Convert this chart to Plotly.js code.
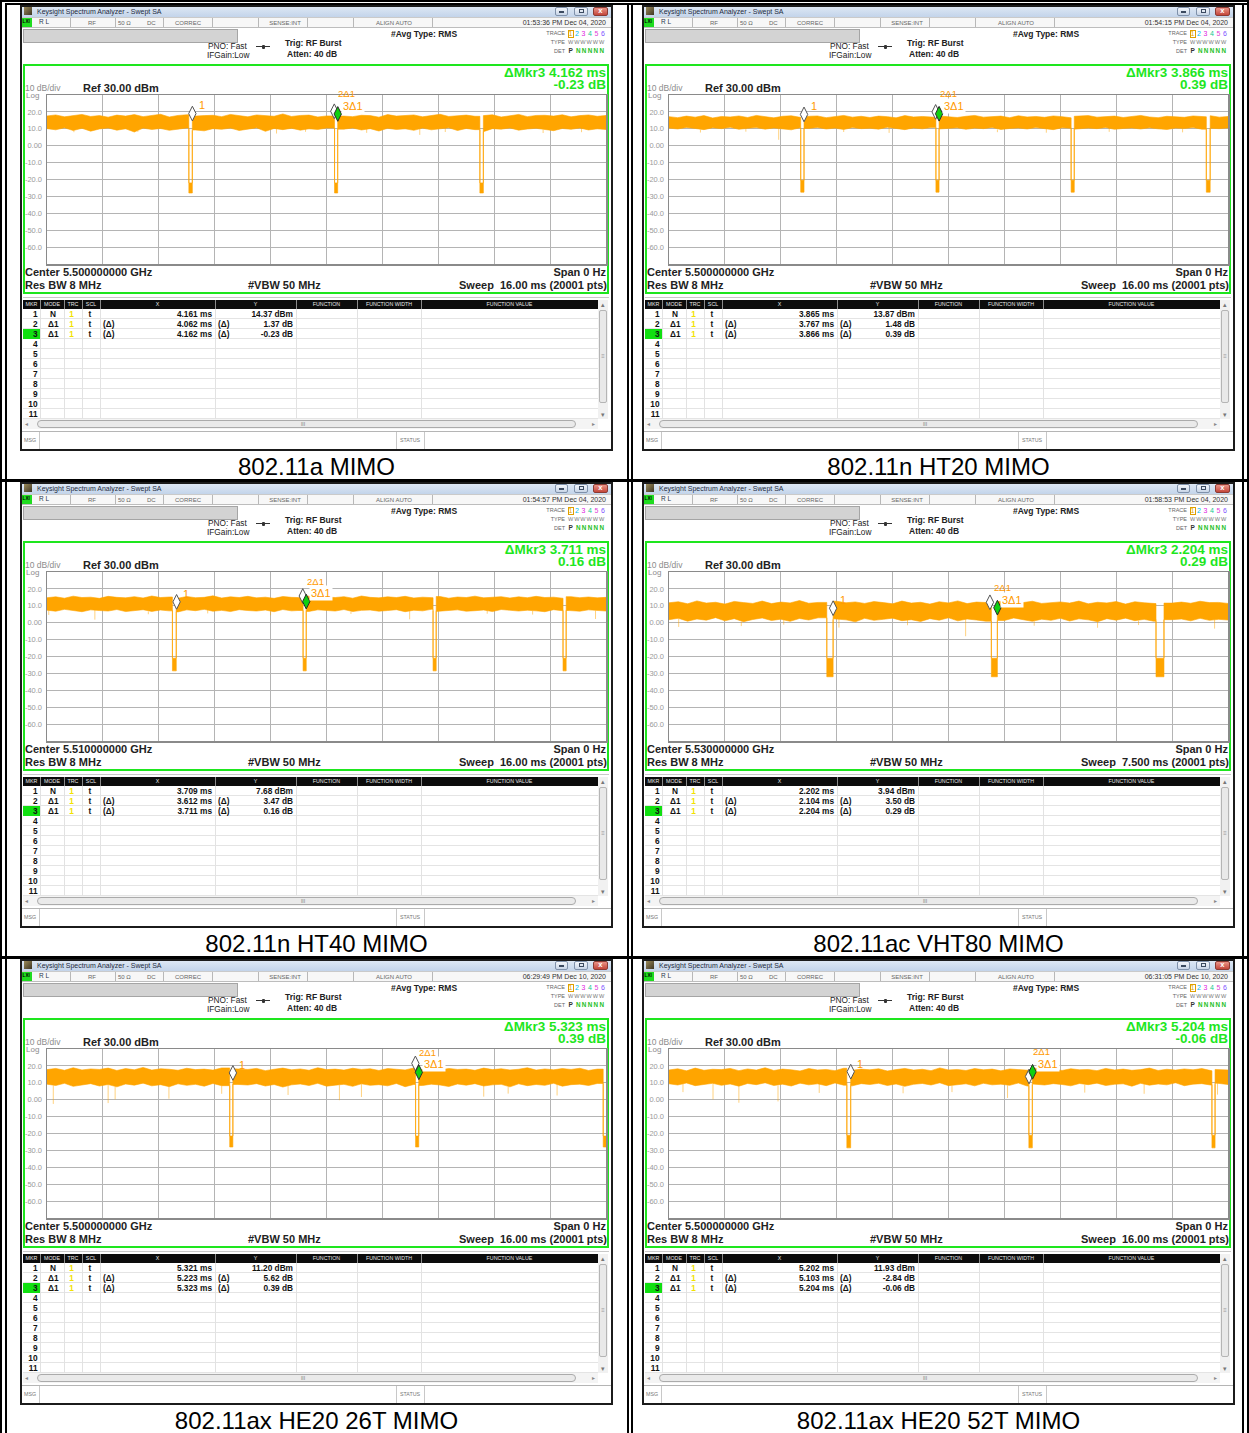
<!DOCTYPE html>
<html><head><meta charset="utf-8">
<script src="https://cdn.plot.ly/plotly-3.0.1.min.js"></script>
<style>
body{margin:0;background:#fff;}
#page{position:relative;width:1249px;height:1433px;overflow:hidden;font-family:"Liberation Sans",Arial,sans-serif;background:#fff;}
</style></head><body><div id="page"></div>
<script>
// ---------------- DATA ----------------
const captions = ["802.11a MIMO","802.11n HT20 MIMO","802.11n HT40 MIMO","802.11ac VHT80 MIMO","802.11ax HE20 26T MIMO","802.11ax HE20 52T MIMO"];
const timestamps = ["01:53:36 PM Dec 04, 2020","01:54:15 PM Dec 04, 2020","01:54:57 PM Dec 04, 2020","01:58:53 PM Dec 04, 2020","06:29:49 PM Dec 10, 2020","06:31:05 PM Dec 10, 2020"];
const centerFreqs = ["5.500000000 GHz","5.500000000 GHz","5.510000000 GHz","5.530000000 GHz","5.500000000 GHz","5.500000000 GHz"];
const sweepMs = [16,16,16,7.5,16,16];
const sweepLabels = ["16.00 ms","16.00 ms","16.00 ms","7.500 ms","16.00 ms","16.00 ms"];
const sampleStepMs = [0.25,0.25,0.25,0.125,0.25,0.25];

// marker table values (marker 1 absolute, markers 2 & 3 are deltas to marker 1)
const mkr1X = [4.161,3.865,3.709,2.202,5.321,5.202];
const mkr1Y = [14.37,13.87,7.68,3.94,11.20,11.93];
const mkr2X = [4.062,3.767,3.612,2.104,5.223,5.103];
const mkr2Y = [1.37,1.48,3.47,3.50,5.62,-2.84];
const mkr3X = [4.162,3.866,3.711,2.204,5.323,5.204];
const mkr3Y = [-0.23,0.39,0.16,0.29,0.39,-0.06];

const yTickVals = [20,10,0,-10,-20,-30,-40,-50,-60];
const yTickText = ["20.0","10.0","0.00","-10.0","-20.0","-30.0","-40.0","-50.0","-60.0"];

// trace-off gaps [start ms, end ms] and level of the trace during the gap [top, bottom] dBm
const gaps1 = [[4.06,4.16],[8.23,8.32],[12.39,12.49]];
const gaps2 = [[3.77,3.865],[7.64,7.73],[11.51,11.60],[15.38,15.49]];
const gaps3 = [[3.59,3.70],[7.33,7.42],[11.05,11.14],[14.77,14.86]];
const gaps4 = [[2.117,2.202],[4.325,4.406],[6.534,6.641]];
const gaps5 = [[5.23,5.32],[10.55,10.64],[15.92,16.0]];
const gaps6 = [[5.09,5.20],[10.30,10.40],[15.54,15.63]];
const gapLevels = [[-22,-28],[-20.5,-27.5],[-21,-28.5],[-21,-32],[-21.5,-28],[-21,-28.5]];

// noise band envelopes (upper / lower), one value per sample step
const bandTop1 = [17.6,18.2,17.1,17.9,18.5,17.3,17.8,16.9,18.1,17.5,18.4,17.2,17.7,18.6,17.0,17.9,
18.3,17.4,17.8,18.0,17.2,18.5,17.6,17.1,18.2,17.7,17.4,18.8,17.3,17.9,18.1,17.0,
17.6,18.3,17.5,17.2,18.0,17.8,16.9,18.4,17.5,17.7,18.2,17.1,17.9,18.6,17.3,17.6,
18.1,17.4,17.8,18.3,17.0,17.7,18.5,17.2,17.9,18.0,17.5,18.3,17.1,17.8,18.2,17.4,17.9];
const bandBot1 = [10.1,9.4,10.6,9.0,10.3,8.6,9.9,10.5,9.2,10.0,8.1,10.4,9.6,10.2,9.1,9.8,
10.5,9.3,8.8,10.1,9.7,10.4,9.0,9.9,10.6,8.5,10.2,9.5,10.3,9.2,10.0,9.6,
10.4,8.9,9.8,10.5,9.3,10.1,8.7,10.3,9.6,10.0,9.1,10.4,9.4,9.9,10.6,9.0,
10.2,9.5,8.3,10.1,9.8,10.5,9.2,9.9,10.3,9.4,8.9,10.2,9.7,10.5,9.3,10.0,9.6];
const bandTop2 = [17.2,16.6,17.5,16.9,17.8,16.4,17.3,17.0,17.6,16.7,17.9,17.1,16.5,17.4,17.7,16.8,
17.3,17.6,16.6,17.1,17.9,16.9,17.4,16.7,17.5,17.2,16.5,17.8,17.0,17.3,16.8,17.6,
17.1,16.7,17.4,17.9,16.9,17.2,17.5,16.6,17.7,17.0,17.3,16.8,17.6,17.2,16.5,17.4,
17.8,16.9,17.1,17.5,16.7,17.3,17.9,17.0,16.6,17.4,17.2,16.8,17.6,17.1,17.7,16.9,17.3];
const bandBot2 = [10.4,9.9,10.8,10.2,9.5,10.6,10.1,10.9,9.7,10.3,10.7,9.8,10.5,10.0,9.4,10.6,
10.2,10.8,9.9,10.4,9.6,10.7,10.1,10.3,9.8,10.9,10.2,9.5,10.5,10.0,10.7,9.9,
10.3,10.6,9.7,10.4,10.1,10.8,9.6,10.2,10.5,9.9,10.7,10.0,9.5,10.6,10.3,9.8,
10.4,10.1,10.8,9.7,10.2,10.5,9.9,10.6,10.0,9.6,10.4,10.2,10.7,9.8,10.3,10.1,10.5];
const bandTop3 = [14.8,15.3,14.5,15.7,14.9,15.1,14.4,15.6,15.0,14.7,15.4,14.6,15.8,14.9,15.2,14.5,
15.5,14.8,15.0,15.9,14.6,15.3,14.9,15.6,14.7,15.1,14.4,15.5,15.0,14.8,15.7,14.6,
15.2,14.9,15.4,14.5,15.8,15.0,14.7,15.3,14.9,15.6,14.6,15.1,14.8,15.5,14.5,15.2,
14.9,15.7,14.7,15.0,15.4,14.6,15.3,14.8,15.6,14.9,15.1,14.5,15.4,14.8,15.2,14.7,15.0];
const bandBot3 = [7.4,6.8,7.9,7.1,6.5,7.6,7.2,6.9,7.8,6.6,7.3,7.7,6.7,7.5,7.0,6.4,
7.6,7.1,7.9,6.8,7.3,6.6,7.7,7.2,6.9,7.5,6.5,7.8,7.0,7.4,6.7,7.6,
7.1,6.9,7.8,6.6,7.3,7.5,6.8,7.2,7.7,6.5,7.4,7.0,7.9,6.7,7.3,7.6,
6.8,7.1,7.5,6.6,7.8,7.2,6.9,7.4,7.0,6.5,7.7,7.1,7.3,6.8,7.6,7.2,6.9];
const bandTop4 = [11.8,12.4,11.2,12.9,11.6,12.1,11.0,12.6,11.9,11.4,12.8,11.3,12.2,11.7,13.1,11.5,
12.0,11.1,12.7,11.8,12.3,11.4,12.5,11.9,11.2,12.8,11.6,12.1,11.0,12.4,11.7,12.9,
11.3,12.2,11.8,11.5,12.6,11.1,12.0,12.7,11.4,11.9,12.3,11.6,12.8,11.2,12.1,11.7,
12.5,11.0,12.4,11.8,11.3,12.9,11.6,12.2,11.5,12.7,11.9,12.0,11.4];
const bandBot4 = [1.8,2.6,0.9,2.2,1.5,3.0,1.1,2.4,0.6,1.9,2.8,1.3,2.1,0.8,2.5,1.6,
2.9,1.0,2.3,1.7,0.5,2.6,1.4,2.0,2.7,1.2,1.8,0.7,2.4,1.5,2.9,1.1,
2.2,1.6,0.9,2.5,1.3,2.8,1.9,0.8,2.1,1.4,2.6,1.0,2.3,1.7,0.6,2.4,
1.5,2.7,1.2,2.0,0.9,2.5,1.8,2.2,1.1,2.6,1.4,2.0,1.6];
const bandTop5 = [17.8,18.5,17.4,18.9,17.6,18.2,17.9,18.7,17.3,18.4,17.7,19.1,17.5,18.3,18.0,17.4,
18.6,17.8,18.1,17.5,18.8,17.6,18.3,17.9,18.5,17.2,18.0,18.7,17.7,18.2,17.4,18.9,
17.8,18.1,17.5,18.6,17.9,18.3,17.3,18.4,18.0,17.6,18.8,17.7,18.2,17.5,18.5,17.9,
18.1,17.4,18.7,17.8,18.3,17.6,18.0,18.9,17.5,18.2,17.7,18.4,17.9,18.6,17.3,18.1,17.8];
const bandBot5 = [9.2,8.4,9.7,7.9,8.8,9.5,8.1,9.0,7.6,9.3,8.6,9.8,8.2,8.9,7.7,9.4,
8.5,9.1,8.0,9.6,8.3,7.8,9.2,8.7,9.5,8.1,9.0,7.5,8.8,9.3,8.4,9.7,
8.0,8.6,9.1,7.9,9.4,8.5,8.9,8.2,9.6,7.7,9.0,8.4,9.2,8.7,7.8,9.3,
8.6,9.5,8.1,8.8,9.1,7.6,9.4,8.3,9.0,8.5,9.7,8.0,8.9,9.2,8.4,9.6,8.7];
const bandTop6 = [17.6,18.3,17.1,18.7,17.4,18.0,17.8,18.5,17.2,18.2,17.5,18.9,17.3,18.1,17.7,17.0,
18.4,17.6,17.9,17.2,18.6,17.4,18.1,17.7,18.3,17.0,17.8,18.5,17.5,18.0,17.2,18.8,
17.6,17.9,17.3,18.4,17.7,18.1,17.1,18.2,17.8,17.4,18.6,17.5,18.0,17.3,18.3,17.7,
17.9,17.2,18.5,17.6,18.1,17.4,17.8,18.7,17.3,18.0,17.5,18.2,17.7,18.4,17.1,17.9,17.6];
const bandBot6 = [9.4,8.7,9.9,8.3,9.1,9.7,8.5,9.3,8.0,9.6,8.9,10.0,8.4,9.2,8.1,9.8,
8.8,9.4,8.3,9.9,8.6,8.2,9.5,9.0,9.7,8.4,9.3,7.9,9.1,9.6,8.7,10.0,
8.3,8.9,9.4,8.2,9.7,8.8,9.2,8.5,9.9,8.1,9.3,8.7,9.5,9.0,8.2,9.6,
8.9,9.8,8.4,9.1,9.4,8.0,9.7,8.6,9.3,8.8,10.0,8.3,9.2,9.5,8.7,9.9,9.0];

// downward noise spikes [time ms, lowest dBm]
const spikes1 = [[0.77,8.0],[2.6,8.6],[6.57,7.2],[7.4,8.2],[9.15,7.6],[10.67,6.4],[11.4,8.1],[14.2,7.5],[15.3,8.0]];
const spikes2 = [[0.9,7.8],[2.2,8.3],[3.14,3.5],[5.0,8.1],[6.3,7.6],[9.4,8.0],[10.8,7.7],[12.6,8.2],[14.7,7.9]];
const spikes3 = [[0.05,4.6],[1.37,1.8],[2.9,5.0],[4.6,5.5],[6.4,4.4],[8.7,5.2],[10.38,2.0],[12.6,5.3],[13.9,4.8],[15.7,2.2]];
const spikes4 = [[0.13,-2.5],[0.97,-2.0],[1.54,-1.2],[2.28,-2.9],[3.2,-1.5],[3.98,-8.0],[4.9,-1.8],[5.75,-3.0],[6.3,-1.4],[7.32,-3.5]];
const spikes5 = [[0.18,-2.5],[1.75,-2.0],[1.95,0.2],[3.49,0.6],[5.0,3.5],[6.9,2.8],[8.37,-0.3],[9.0,1.6],[12.5,1.8],[13.2,3.6],[14.6,2.5]];
const spikes6 = [[0.4,4.5],[1.26,0.2],[2.0,-1.8],[3.12,-1.0],[4.3,4.0],[6.7,3.8],[8.1,4.5],[9.69,1.0],[11.9,4.2],[13.6,3.5],[15.7,3.0]];

const bandTops = [bandTop1,bandTop2,bandTop3,bandTop4,bandTop5,bandTop6];
const bandBots = [bandBot1,bandBot2,bandBot3,bandBot4,bandBot5,bandBot6];
const gapLists = [gaps1,gaps2,gaps3,gaps4,gaps5,gaps6];
const spikeLists = [spikes1,spikes2,spikes3,spikes4,spikes5,spikes6];

// ---------------- DRAWING ----------------
const F = '"Liberation Sans", Arial, sans-serif';
const page = document.getElementById('page');
const ORANGE = '#ffa500';

function el(parent, css, text){
  const d = document.createElement('div');
  d.style.cssText = 'position:absolute;' + css;
  if (text != null) d.textContent = text;
  parent.appendChild(d);
  return d;
}
function txt(parent, s, x, yc, fs, o){
  o = o || {};
  const tr = o.align === 'right' ? 'translateX(-100%)' : (o.align === 'center' ? 'translateX(-50%)' : 'none');
  return el(parent, `left:${x}px;top:${yc - fs/2}px;font-size:${fs}px;line-height:${fs}px;white-space:pre;color:${o.color || '#000'};font-weight:${o.bold ? 'bold' : 'normal'};transform:${tr};` + (o.css || ''), s);
}

// table lines
function line(x, y, w, h){ el(page, `left:${x}px;top:${y}px;width:${w}px;height:${h}px;background:#000;`); }
line(0,0,1249,2); line(5,3,1244,2);
line(0,479,1249,3); line(0,956,1249,3);
line(0,0,2,1433); line(5,3,2,1430); line(627,3,2,1430); line(631,3,2,1430); line(1242,3,2,1430); line(1247,0,2,1433);

const rowsTop = [5, 482, 959];
const colsLeft = [20, 642];

function fmtX(v){ return v.toFixed(3) + ' ms'; }
function fmtY(v){ return v.toFixed(2); }

function buildPanel(k, L, T){
  const p = el(page, `left:${L}px;top:${T}px;width:593px;height:446px;background:#fff;overflow:hidden;font-family:${F};`);
  // title bar
  el(p, 'left:0;top:0;width:593px;height:12px;background:linear-gradient(#e2ebf6,#c3d4ea);');
  el(p, 'left:4px;top:2px;width:8px;height:8px;background:linear-gradient(135deg,#9a8a5a,#3e3522);');
  txt(p, 'Keysight Spectrum Analyzer - Swept SA', 17, 6.5, 7, {color:'#1d2a40'});
  el(p, 'left:535px;top:1.5px;width:13px;height:9px;border:1px solid #7f91aa;border-radius:2px;box-sizing:border-box;background:linear-gradient(#f3f6fb,#c8d5e7);');
  el(p, 'left:539px;top:6px;width:5px;height:1.5px;background:#3b4a60;');
  el(p, 'left:554px;top:1.5px;width:14px;height:9px;border:1px solid #7f91aa;border-radius:2px;box-sizing:border-box;background:linear-gradient(#f3f6fb,#c8d5e7);');
  el(p, 'left:558.5px;top:3.5px;width:5px;height:4px;border:1px solid #3b4a60;box-sizing:border-box;');
  el(p, 'left:573px;top:1.5px;width:15px;height:9px;border:1px solid #8b3a33;border-radius:2px;box-sizing:border-box;background:linear-gradient(#ea9488,#c4463a);');
  txt(p, 'x', 578.3, 5.6, 7.5, {color:'#fff', bold:true});
  // status row
  el(p, 'left:0;top:12px;width:593px;height:11px;background:#f7f7f7;border-top:1px solid #cacaca;border-bottom:1px solid #bdbdbd;box-sizing:border-box;');
  el(p, 'left:2px;top:13px;width:10px;height:9px;background:#1fdc1f;');
  txt(p, 'LXI', 2.6, 17.6, 4.6, {color:'#000', bold:true});
  [50,95,143,192,238,287,333,412].forEach(x => el(p, `left:${x}px;top:13px;width:1px;height:9px;background:#b8b8b8;`));
  txt(p, 'R L', 19, 17.6, 6.5, {color:'#2b3550'});
  txt(p, 'RF', 72, 17.6, 6, {color:'#666', align:'center'});
  txt(p, '50 Ω', 98, 17.6, 6, {color:'#666'});
  txt(p, 'DC', 127, 17.6, 6, {color:'#666'});
  txt(p, 'CORREC', 155, 17.6, 6, {color:'#666'});
  txt(p, 'SENSE:INT', 265, 17.6, 6, {color:'#666', align:'center'});
  txt(p, 'ALIGN AUTO', 374, 17.6, 6, {color:'#666', align:'center'});
  txt(p, timestamps[k], 586, 17.6, 7, {color:'#333', align:'right'});
  // input bar
  el(p, 'left:3px;top:24px;width:215px;height:14px;background:#d3d3d3;border:1px solid #a5a5a5;box-sizing:border-box;');
  // header texts
  txt(p, '#Avg Type: RMS', 371, 29.5, 8.5, {bold:true, color:'#222'});
  txt(p, 'PNO: Fast', 188, 41.5, 8.3, {color:'#222'});
  txt(p, 'IFGain:Low', 187, 50.5, 8.3, {color:'#222'});
  el(p, 'left:236px;top:41px;width:14px;height:1px;background:#333;');
  el(p, 'left:241.5px;top:39.5px;width:3px;height:4px;background:#333;border-radius:1px;');
  txt(p, 'Trig: RF Burst', 265, 38.3, 8.5, {bold:true, color:'#222'});
  txt(p, 'Atten: 40 dB', 267, 49, 8.5, {bold:true, color:'#222'});
  // trace info block
  txt(p, 'TRACE', 545, 28.5, 5.5, {color:'#666', align:'right'});
  txt(p, 'TYPE', 545, 37.5, 5.5, {color:'#666', align:'right'});
  txt(p, 'DET', 545, 46.5, 5.5, {color:'#666', align:'right'});
  el(p, 'left:547.5px;top:24.5px;width:6px;height:8.5px;border:1px solid #e0a000;box-sizing:border-box;background:#fff;');
  const tc = ['#e0a800','#00b8ee','#e020e0','#10c890','#e040d8','#8050ff'];
  for (let j = 0; j < 6; j++) txt(p, String(j+1), 550.5 + j*6.5, 28.8, 7, {color:tc[j], align:'center'});
  txt(p, 'WWWWWW', 548, 37.6, 5.6, {color:'#7a7a7a', css:'letter-spacing:0.9px;'});
  txt(p, 'P', 548.5, 46.6, 6.5, {color:'#333', bold:true});
  txt(p, 'NNNNN', 556, 46.6, 6.3, {color:'#22c022', bold:true, css:'letter-spacing:1.3px;'});
  // green box
  el(p, 'left:3px;top:59px;width:586px;height:230px;border:2px solid #1ee61e;box-sizing:border-box;');
  txt(p, 'ΔMkr3 ' + fmtX(mkr3X[k]), 586, 67.5, 13.5, {bold:true, color:'#1ee61e', align:'right'});
  txt(p, fmtY(mkr3Y[k]) + ' dB', 586, 80, 13.5, {bold:true, color:'#1ee61e', align:'right'});
  txt(p, '10 dB/div', 5, 83.5, 8.5, {color:'#8c8c8c'});
  txt(p, 'Ref 30.00 dBm', 63, 83.5, 11, {bold:true, color:'#222'});
  txt(p, 'Log', 6, 91, 8, {color:'#8c8c8c'});
  // plot (transparent paper, taller on top so marker labels are never cut)
  const pd = el(p, 'left:0;top:65px;width:593px;height:200px;');
  // lower texts
  txt(p, 'Center ' + centerFreqs[k], 5, 267.5, 11, {bold:true, color:'#222'});
  txt(p, 'Res BW 8 MHz', 5, 280, 11, {bold:true, color:'#222'});
  txt(p, '#VBW 50 MHz', 228, 280, 11, {bold:true, color:'#222'});
  txt(p, 'Span 0 Hz', 586, 267.5, 11, {bold:true, color:'#222', align:'right'});
  txt(p, 'Sweep  ' + sweepLabels[k] + ' (20001 pts)', 587, 280, 11, {bold:true, color:'#222', align:'right'});
  el(p, 'left:3px;top:292px;width:586px;height:1px;background:#c8c8c8;');
  // marker table header
  el(p, 'left:3px;top:295px;width:575px;height:9px;background:#0c0c0c;');
  const cb = [20,44,62,80,195,276,337,401];
  cb.forEach(x => el(p, `left:${x}px;top:295px;width:1px;height:9px;background:#8a8a8a;`));
  const hl = [['MKR',11.5],['MODE',32],['TRC',53],['SCL',71],['X',137.5],['Y',235.5],['FUNCTION',306.5],['FUNCTION WIDTH',369],['FUNCTION VALUE',489.5]];
  hl.forEach(h => txt(p, h[0], h[1], 299.8, 5.3, {color:'#e8e8e8', align:'center'}));
  // body
  for (let r = 0; r < 11; r++){
    const rt = 304.3 + r*9.97;
    el(p, `left:3px;top:${rt + 9}px;width:575px;height:1px;background:#e4e4e4;`);
  }
  cb.forEach(x => el(p, `left:${x}px;top:304px;width:1px;height:110px;background:#e2e2e2;`));
  el(p, `left:3px;top:${304.3 + 2*9.97}px;width:17px;height:9.5px;background:#10e010;`);
  for (let r = 0; r < 11; r++){
    const yc = 309.3 + r*9.97;
    txt(p, String(r+1), 17.5, yc, 8.3, {bold:true, color:'#111', align:'right'});
  }
  const rowsX = [fmtX(mkr1X[k]), fmtX(mkr2X[k]), fmtX(mkr3X[k])];
  const rowsY = [mkr1Y[k].toFixed(2) + ' dBm', mkr2Y[k].toFixed(2) + ' dB', mkr3Y[k].toFixed(2) + ' dB'];
  for (let r = 0; r < 3; r++){
    const yc = 309.3 + r*9.97;
    txt(p, r === 0 ? 'N' : 'Δ1', r === 0 ? 30 : 28, yc, 8.3, {bold:true, color:'#111'});
    txt(p, '1', 51.5, yc, 8.3, {bold:true, color:'#f2e200', align:'center'});
    txt(p, 't', 70, yc, 8.3, {bold:true, color:'#111', align:'center'});
    if (r > 0){
      txt(p, '(Δ)', 83, yc, 8.3, {bold:true, color:'#111'});
      txt(p, '(Δ)', 198, yc, 8.3, {bold:true, color:'#111'});
    }
    txt(p, rowsX[r], 192, yc, 8.3, {bold:true, color:'#111', align:'right'});
    txt(p, rowsY[r], 273, yc, 8.3, {bold:true, color:'#111', align:'right'});
  }
  // vertical scrollbar
  el(p, 'left:578px;top:295px;width:10px;height:119px;background:#f1f1f1;');
  txt(p, '▴', 583, 299, 7, {color:'#777', align:'center'});
  el(p, 'left:579px;top:305px;width:8px;height:93px;background:#e9e9e9;border:1px solid #b5b5b5;border-radius:2px;box-sizing:border-box;');
  txt(p, '≡', 583, 351, 6, {color:'#999', align:'center'});
  txt(p, '▾', 583, 409, 7, {color:'#777', align:'center'});
  // horizontal scrollbar
  el(p, 'left:3px;top:414px;width:575px;height:10px;background:#f4f4f4;');
  txt(p, '◂', 5, 419.2, 6, {color:'#888'});
  el(p, 'left:17px;top:415px;width:539px;height:8px;background:#eaeaea;border:1px solid #ababab;border-radius:4px;box-sizing:border-box;');
  txt(p, 'III', 283, 419.2, 5, {color:'#777', align:'center'});
  txt(p, '▸', 572, 419.2, 6, {color:'#888'});
  // MSG / STATUS
  el(p, 'left:0;top:426px;width:593px;height:1px;background:#b5b5b5;');
  el(p, 'left:19px;top:427px;width:1px;height:17px;background:#c8c8c8;');
  el(p, 'left:376px;top:427px;width:1px;height:17px;background:#c8c8c8;');
  el(p, 'left:404px;top:427px;width:1px;height:17px;background:#c8c8c8;');
  txt(p, 'MSG', 4, 435.5, 5.3, {color:'#777'});
  txt(p, 'STATUS', 390, 435.5, 5.3, {color:'#777', align:'center'});
  // outer frame of the screenshot
  el(p, 'left:0;top:0;width:593px;height:446px;border:2px solid #1b1b1b;box-sizing:border-box;pointer-events:none;');
  return pd;
}

function buildBand(top, bot, step, sweep, gaps, lv){
  const ux = [], uy = [], lx = [], ly = [];
  let gi = 0, lastT = top[0], lastB = bot[0], rise = null;
  const inGap = x => gaps.some(g => x >= g[0] && x <= g[1]);
  for (let i = 0; i < top.length; i++){
    const x = i * step;
    if (x > sweep + 1e-9) break;
    while (gi < gaps.length && gaps[gi][0] <= x){
      const g0 = gaps[gi][0], g1 = Math.min(gaps[gi][1], sweep);
      ux.push(g0, g0, g1); uy.push(lastT, lv[0], lv[0]);
      lx.push(g0, g0, g1); ly.push(lastB, lv[1], lv[1]);
      rise = g1 < sweep ? g1 : null;
      gi++;
    }
    if (inGap(x)) continue;
    if (rise !== null){ ux.push(rise); uy.push(top[i]); lx.push(rise); ly.push(bot[i]); rise = null; }
    ux.push(x); uy.push(top[i]); lx.push(x); ly.push(bot[i]);
    lastT = top[i]; lastB = bot[i];
  }
  while (gi < gaps.length){
    const g0 = gaps[gi][0], g1 = Math.min(gaps[gi][1], sweep);
    ux.push(g0, g0, g1); uy.push(lastT, lv[0], lv[0]);
    lx.push(g0, g0, g1); ly.push(lastB, lv[1], lv[1]);
    gi++;
  }
  lx.reverse(); ly.reverse();
  return {x: ux.concat(lx), y: uy.concat(ly)};
}

function plotPanel(k, div){
  const sw = sweepMs[k], st = sampleStepMs[k];
  const top = bandTops[k], bot = bandBots[k], gaps = gapLists[k], lv = gapLevels[k];
  const band = buildBand(top, bot, st, sw, gaps, lv);
  const near = x => bot[Math.min(bot.length - 1, Math.max(0, Math.round(x / st)))];
  const tx = [], ty = [];
  gaps.forEach(g => {
    tx.push(g[0], g[0], null); ty.push(near(g[0] - st), lv[0], null);
    if (g[1] < sw){ tx.push(g[1], g[1], null); ty.push(near(g[1] + st), lv[0], null); }
  });
  const sx = [], sy = [];
  spikeLists[k].forEach(s => { sx.push(s[0], s[0], null); sy.push(near(s[0]), s[1], null); });

  const m1x = mkr1X[k], m1y = mkr1Y[k];
  const m2x = m1x + mkr2X[k], m2y = m1y + mkr2Y[k];
  const m3x = m1x + mkr3X[k], m3y = m1y + mkr3Y[k];
  const plotH = 169, dbPerPx = 100 / plotH, dSize = 10.5;
  const lift = (0.7 * dSize + 0.5) * dbPerPx; // diamond tip sits on the marker value

  const traces = [
    {x: band.x, y: band.y, mode: 'lines', fill: 'toself', fillcolor: ORANGE, line: {width: 0.6, color: ORANGE}, hoverinfo: 'skip'},
    {x: tx, y: ty, mode: 'lines', line: {width: 1, color: 'rgba(255,165,0,0.45)'}, hoverinfo: 'skip'},
    {x: sx, y: sy, mode: 'lines', line: {width: 1, color: 'rgba(255,165,0,0.5)'}, hoverinfo: 'skip'},
    {x: [m2x], y: [m2y + lift], mode: 'markers', marker: {symbol: 'diamond-tall', size: dSize, color: '#ffffff', line: {color: '#555', width: 1}}},
    {x: [m3x], y: [m3y + lift], mode: 'markers', marker: {symbol: 'diamond-tall', size: dSize, color: '#10d010', line: {color: '#2a2a2a', width: 1}}},
    {x: [m1x], y: [m1y + lift], mode: 'markers', marker: {symbol: 'diamond-tall', size: dSize, color: '#ffffff', line: {color: '#555', width: 1}}}
  ];
  const af = {family: F, size: 11, color: '#ff9a00'};
  const af2 = {family: F, size: 9.5, color: '#ff9a00'};
  const layout = {
    width: 593, height: 200,
    margin: {l: 27, r: 7, t: 25, b: 6, pad: 0},
    paper_bgcolor: 'rgba(0,0,0,0)', plot_bgcolor: '#ffffff',
    showlegend: false,
    font: {family: F},
    xaxis: {range: [0, sw], tick0: 0, dtick: sw / 10, showgrid: true, gridcolor: '#b4b4b4', gridwidth: 1,
            showticklabels: false, ticks: '', zeroline: false, showline: true, mirror: true, linecolor: '#8a8a8a', linewidth: 1.5, fixedrange: true},
    yaxis: {range: [-70, 30], tickvals: yTickVals, ticktext: yTickText, showgrid: true, gridcolor: '#b4b4b4', gridwidth: 1,
            tickfont: {family: F, size: 7.5, color: '#9a9a9a'}, ticks: '', ticklabelstandoff: 2, zeroline: false,
            showline: true, mirror: true, linecolor: '#8a8a8a', linewidth: 1.5, fixedrange: true},
    annotations: [
      {x: m1x, y: m1y, xref: 'x', yref: 'y', text: '1', showarrow: false, xanchor: 'left', yanchor: 'middle', xshift: 4.5, yshift: 16, font: af},
      // "2Δ1" stacked just above the "3Δ1" label
      {x: m2x, y: m3y, xref: 'x', yref: 'y', text: '2Δ1', showarrow: false, xanchor: 'left', yanchor: 'middle', xshift: 3, yshift: 28, font: af2, borderpad: 0},
      {x: m3x, y: m3y, xref: 'x', yref: 'y', text: '3Δ1', showarrow: false, xanchor: 'left', yanchor: 'middle', xshift: 3, yshift: 16, font: af, bgcolor: '#ffffff', borderpad: 1}
    ]
  };
  Plotly.newPlot(div, traces, layout, {staticPlot: true, displayModeBar: false});
}

for (let k = 0; k < 6; k++){
  const L = colsLeft[k % 2], T = rowsTop[Math.floor(k / 2)];
  const pd = buildPanel(k, L, T);
  plotPanel(k, pd);
  txt(page, captions[k], L + 296.5, T + 462, 24, {align: 'center', color: '#000'});
}
</script></body></html>
